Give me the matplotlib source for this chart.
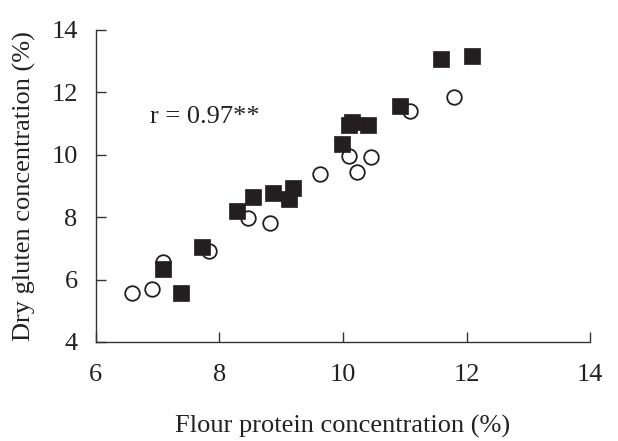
import matplotlib
matplotlib.use("Agg")
import matplotlib.pyplot as plt

plt.rcParams['font.family'] = ['Liberation Serif', 'DejaVu Serif']

# filled squares
sq_x = [7.09, 7.38, 7.72, 8.29, 8.55, 8.86, 9.12, 9.19, 9.99, 10.09, 10.14, 10.40, 10.93, 11.59, 12.08]
sq_y = [6.33, 5.56, 7.05, 8.21, 8.64, 8.79, 8.58, 8.95, 10.34, 10.96, 11.06, 10.96, 11.56, 13.06, 13.18]

# open circles
ci_x = [6.59, 6.91, 7.08, 7.83, 8.46, 8.82, 9.62, 10.10, 10.22, 10.45, 11.09, 11.80]
ci_y = [5.56, 5.69, 6.55, 6.91, 7.97, 7.82, 9.37, 9.96, 9.45, 9.92, 11.41, 11.86]

x_ticks = [6, 8, 10, 12, 14]
y_ticks = [4, 6, 8, 10, 12, 14]

ink = '#231f20'

fig = plt.figure(figsize=(6.18, 4.41), dpi=100)
ax = fig.add_axes([0.155, 0.2245, 0.80, 0.7075])

ax.plot(ci_x, ci_y, 'o', ms=10.5, mfc='white', mec=ink, mew=1.3, ls='none')
ax.plot(sq_x, sq_y, 's', ms=11.5, mfc=ink, mec=ink, mew=0.5, ls='none')

ax.set_xlim(6, 14)
ax.set_ylim(4, 14)
ax.set_xticks(x_ticks)
ax.set_yticks(y_ticks)

for s in ['top', 'right']:
    ax.spines[s].set_visible(False)
for s in ['left', 'bottom']:
    ax.spines[s].set_color('#333333')
    ax.spines[s].set_linewidth(1.0)

ax.tick_params(direction='in', length=7, width=1.0, color='#333333',
               labelsize=19, labelcolor='#222222')
ax.tick_params(axis='x', pad=16)
ax.tick_params(axis='y', pad=13)

ax.set_xlabel('Flour protein concentration (%)', fontsize=19, color='#222222', labelpad=21)
ax.set_ylabel('Dry gluten concentration (%)', fontsize=19, color='#222222', labelpad=11)

ax.text(6.88, 11.2, 'r = 0.97**', fontsize=19, color='#222222', ha='left', va='center')

fig.savefig('out.png', dpi=100)
